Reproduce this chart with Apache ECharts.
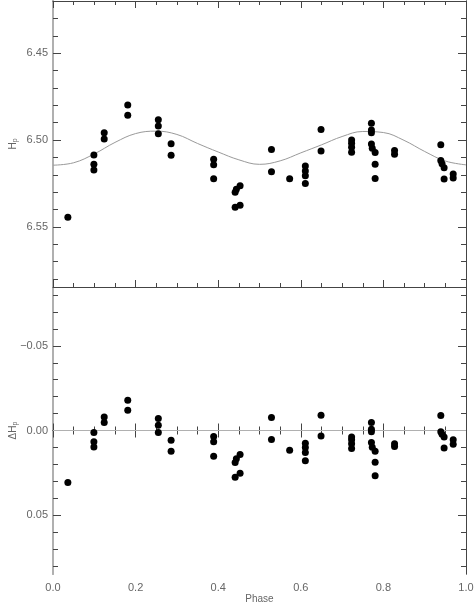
<!DOCTYPE html>
<html>
<head>
<meta charset="utf-8">
<title>Hp phase diagram</title>
<script src="https://cdn.jsdelivr.net/npm/echarts@6/dist/echarts.min.js"></script>
<style>
  html, body { margin: 0; padding: 0; background: #fff; }
  #main { width: 474px; height: 604px; }
</style>
</head>
<body>
<div id="main"></div>
<script>
// 观测数据：相位、星等 Hp、残差 ΔHp
var phase = [0.036, 0.099, 0.099, 0.099, 0.124, 0.124, 0.181, 0.181, 0.255, 0.255,
    0.255, 0.286, 0.286, 0.389, 0.389, 0.389, 0.441, 0.444, 0.453, 0.441,
    0.453, 0.529, 0.529, 0.573, 0.611, 0.611, 0.611, 0.611, 0.649, 0.649,
    0.723, 0.723, 0.723, 0.723, 0.771, 0.771, 0.771, 0.771, 0.773, 0.780,
    0.780, 0.780, 0.827, 0.827, 0.939, 0.939, 0.942, 0.947, 0.947, 0.969, 0.969];
var hp = [6.5445, 6.5086, 6.5139, 6.5172, 6.4958, 6.4994, 6.4798, 6.4857, 6.4884, 6.4920,
    6.4964, 6.5021, 6.5088, 6.5111, 6.5143, 6.5223, 6.5301, 6.5284, 6.5263, 6.5387,
    6.5376, 6.5055, 6.5183, 6.5223, 6.5150, 6.5179, 6.5206, 6.5250, 6.4939, 6.5063,
    6.5000, 6.5019, 6.5042, 6.5070, 6.4904, 6.4943, 6.4958, 6.5023, 6.5047, 6.5072,
    6.5139, 6.5221, 6.5061, 6.5082, 6.5027, 6.5118, 6.5137, 6.5160, 6.5225, 6.5196, 6.5219];
var dhp = [0.0307, 0.0012, 0.0067, 0.0097, -0.0080, -0.0047, -0.0179, -0.0120, -0.0071, -0.0031,
    0.0012, 0.0057, 0.0122, 0.0035, 0.0067, 0.0152, 0.0189, 0.0167, 0.0142, 0.0276,
    0.0252, -0.0077, 0.0053, 0.0116, 0.0075, 0.0100, 0.0130, 0.0179, -0.0090, 0.0032,
    0.0038, 0.0055, 0.0079, 0.0106, -0.0047, -0.0008, 0.0008, 0.0071, 0.0099, 0.0122,
    0.0187, 0.0268, 0.0079, 0.0094, -0.0088, 0.0008, 0.0022, 0.0038, 0.0103, 0.0055, 0.0081];

// 拟合曲线
var modelPhase = [0.00, 0.05, 0.10, 0.15, 0.20, 0.25, 0.30, 0.35, 0.40, 0.45,
    0.50, 0.55, 0.60, 0.65, 0.70, 0.75, 0.80, 0.85, 0.90, 0.95, 1.00];
var modelHp = [6.5145, 6.5131, 6.5080, 6.5014, 6.4963, 6.4949, 6.4968, 6.5020, 6.5069, 6.5114,
    6.5140, 6.5120, 6.5074, 6.5028, 6.4980, 6.4951, 6.4957, 6.5002, 6.5066, 6.5121, 6.5143];

// 残差零线
var zeroPhase = [0, 1];
var zeroDhp = [0, 0];

// 刻度
var hpMajor = [6.45, 6.50, 6.55];
var hpMinor = [6.43, 6.44, 6.46, 6.47, 6.48, 6.49, 6.51, 6.52, 6.53, 6.54, 6.56, 6.57, 6.58];
var dhpMajor = [-0.05, 0, 0.05];
var dhpMinor = [-0.08, -0.07, -0.06, -0.04, -0.03, -0.02, -0.01, 0.01, 0.02, 0.03, 0.04, 0.06, 0.07, 0.08];

var hpRange = [6.42, 6.5846];
var dhpRange = [-0.0848, 0.0848];

function zip(xs, ys) {
    var out = [];
    for (var i = 0; i < xs.length; i++) {
        out.push([xs[i], ys[i]]);
    }
    return out;
}

var textColor = '#666';
var lineColor = '#444';
var fontFamily = 'Liberation Sans';

function makeY(grid, range, pos, ticks, len, labels, name) {
    var ax = {
        type: 'value',
        gridIndex: grid,
        position: pos,
        min: range[0],
        max: range[1],
        inverse: true,
        splitLine: { show: false },
        axisLine: {
            show: true,
            lineStyle: { color: pos === 'left' ? '#b0b0b0' : lineColor, width: pos === 'left' ? 2 : 1 }
        },
        axisTick: {
            show: true,
            inside: true,
            length: len,
            customValues: ticks,
            lineStyle: { color: lineColor }
        },
        axisLabel: { show: false }
    };
    if (labels) {
        ax.axisLabel = {
            show: true,
            customValues: ticks,
            margin: 5,
            color: textColor,
            fontSize: 11,
            fontFamily: fontFamily,
            formatter: function (v) {
                var s = Math.abs(v).toFixed(2);
                return v < -1e-9 ? '\u2212' + s : s;
            }
        };
    }
    if (name) {
        ax.name = name;
        ax.nameLocation = 'middle';
        ax.nameGap = 34;
        ax.nameRotate = 90;
        ax.nameMoveOverlap = false;
        ax.nameTextStyle = {
            color: textColor,
            fontFamily: fontFamily,
            fontSize: 10,
            rich: {
                n: { fontSize: 10, color: textColor, fontFamily: fontFamily },
                sub: { fontSize: 7, color: textColor, fontFamily: fontFamily, padding: [5, 0, 0, 0] }
            }
        };
    }
    return ax;
}

function makeX(grid, pos, labels, name) {
    var ax = {
        type: 'value',
        gridIndex: grid,
        position: pos,
        min: 0,
        max: 1,
        interval: 0.2,
        splitLine: { show: false },
        axisLine: { show: true, lineStyle: { color: lineColor, width: 1 } },
        axisTick: { show: true, inside: true, length: 7, lineStyle: { color: lineColor } },
        minorTick: { show: true, splitNumber: 4, length: 4, lineStyle: { color: lineColor } },
        axisLabel: { show: false }
    };
    if (labels) {
        ax.axisLabel = {
            show: true,
            margin: 8,
            color: textColor,
            fontSize: 11,
            fontFamily: fontFamily,
            formatter: function (v) { return v.toFixed(1); }
        };
    }
    if (name) {
        ax.name = name;
        ax.nameLocation = 'middle';
        ax.nameGap = 20;
        ax.nameMoveOverlap = false;
        ax.nameTextStyle = { color: textColor, fontFamily: fontFamily, fontSize: 10 };
    }
    return ax;
}

var chartOptions = {
    animation: false,
    backgroundColor: '#fff',
    grid: [
        { left: 53, right: 8, top: 1, height: 286, containLabel: false, outerBoundsMode: 'none' },
        { left: 53, right: 8, top: 287, height: 287, containLabel: false, outerBoundsMode: 'none' }
    ],
    xAxis: [
        makeX(0, 'bottom', false),
        makeX(0, 'top', false),
        makeX(1, 'bottom', true, 'Phase'),
        makeX(1, 'top', false)
    ],
    yAxis: [
        makeY(0, hpRange, 'left', hpMajor, 8, true, '{n|H}{sub|p}'),
        makeY(0, hpRange, 'left', hpMinor, 5, false),
        makeY(0, hpRange, 'right', hpMajor, 8, false),
        makeY(0, hpRange, 'right', hpMinor, 5, false),
        makeY(1, dhpRange, 'left', dhpMajor, 8, true, '{n|\u0394H}{sub|p}'),
        makeY(1, dhpRange, 'left', dhpMinor, 5, false),
        makeY(1, dhpRange, 'right', dhpMajor, 8, false),
        makeY(1, dhpRange, 'right', dhpMinor, 5, false)
    ],
    series: [
        {
            name: 'model',
            type: 'line',
            xAxisIndex: 0,
            yAxisIndex: 0,
            smooth: 0.4,
            showSymbol: false,
            lineStyle: { color: '#9a9a9a', width: 1 },
            data: zip(modelPhase, modelHp),
            z: 2
        },
        {
            name: 'Hp',
            type: 'scatter',
            xAxisIndex: 0,
            yAxisIndex: 0,
            symbolSize: 7,
            itemStyle: { color: '#000', opacity: 1 },
            data: zip(phase, hp),
            z: 3
        },
        {
            name: 'zero',
            type: 'line',
            xAxisIndex: 2,
            yAxisIndex: 4,
            showSymbol: false,
            lineStyle: { color: '#b0b0b0', width: 1 },
            data: zip(zeroPhase, zeroDhp),
            z: 2
        },
        {
            name: 'dHp',
            type: 'scatter',
            xAxisIndex: 2,
            yAxisIndex: 4,
            symbolSize: 7,
            itemStyle: { color: '#000', opacity: 1 },
            data: zip(phase, dhp),
            z: 3
        }
    ]
};

var chart = echarts.init(document.getElementById('main'));
chart.setOption(chartOptions);
</script>
</body>
</html>
